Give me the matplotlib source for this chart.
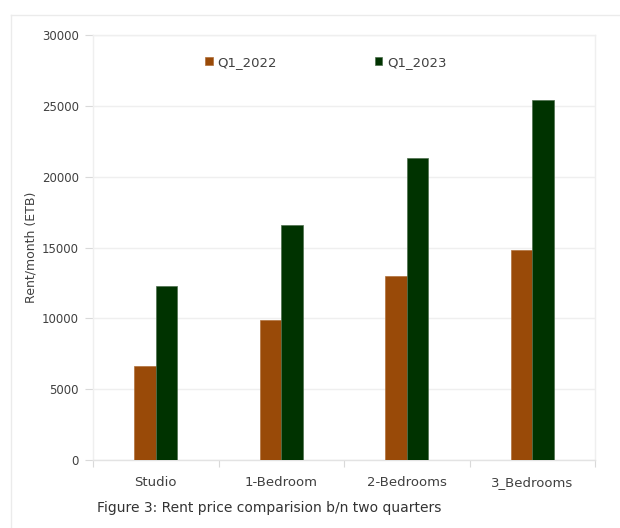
import matplotlib.pyplot as plt
import numpy as np
from matplotlib.lines import Line2D

categories = ['Studio', '1-Bedroom', '2-Bedrooms', '3_Bedrooms']
q1_2022 = [6600, 9900, 13000, 14800]
q1_2023 = [12250, 16600, 21300, 25400]
series_names = ['Q1_2022', 'Q1_2023']
yticks = [0, 5000, 10000, 15000, 20000, 25000, 30000]

orange = '#994a08'
green = '#003300'
grid_c = '#efefef'
text_c = '#404040'
fam = ['DejaVu Sans']

fig = plt.figure(figsize=(6.2, 5.28), dpi=100)
# outer chart frame: only left and top edges are inside the picture
fx, fy = 11 / 620, 1 - 15 / 528
fig.lines.append(Line2D([fx, fx], [0, fy], transform=fig.transFigure,
                        color='#ebebeb', linewidth=1.0))
fig.lines.append(Line2D([fx, 1], [fy, fy], transform=fig.transFigure,
                        color='#ebebeb', linewidth=1.0))

ax = fig.add_axes([93 / 620, (528 - 459.8) / 528, (595 - 93) / 620, (459.8 - 35.3) / 528])

x = np.arange(len(categories))
w = 0.17
ax.bar(x - w / 2, q1_2022, w, color=orange, edgecolor='#b0703a', linewidth=0.5,
       label=series_names[0], zorder=3)
ax.bar(x + w / 2, q1_2023, w, color=green, edgecolor='#4d6f4d', linewidth=0.5,
       label=series_names[1], zorder=3)

ax.set_xlim(-0.5, 3.5)
ax.set_ylim(0, 30000)
ax.set_yticks(yticks)
ax.set_yticklabels([str(v) for v in yticks], fontsize=8.5, color=text_c, family=fam)
ax.set_xticks(x)
ax.set_xticklabels(categories, fontsize=9.5, color=text_c, family=fam)
ax.set_xticks(np.arange(-0.5, 4, 1), minor=True)
ax.tick_params(axis='x', which='major', length=0, pad=12)
ax.tick_params(axis='x', which='minor', length=5, color='#d9d9d9', width=0.8)
ax.tick_params(axis='y', length=6, color='#d9d9d9', width=0.8, pad=4)

ax.grid(axis='y', color=grid_c, linewidth=1.0, zorder=0)
for s in ax.spines.values():
    s.set_color(grid_c)
    s.set_linewidth(1.0)
ax.spines['bottom'].set_color('#e3e3e3')

ax.set_ylabel('Rent/month (ETB)', fontsize=9, color=text_c, family=fam, labelpad=3)

leg = ax.legend(loc='center', bbox_to_anchor=(0.464, 0.937), ncol=2,
                frameon=False, handlelength=0.55, handleheight=0.55,
                handletextpad=0.38, columnspacing=7.4,
                prop={'family': fam, 'size': 9.5})
for t in leg.get_texts():
    t.set_color(text_c)

fig.text(97 / 620, 1 - 508 / 528, 'Figure 3: Rent price comparision b/n two quarters',
         fontsize=10, color='#333333', family=fam, va='center')

fig.savefig('out.png', dpi=100)
